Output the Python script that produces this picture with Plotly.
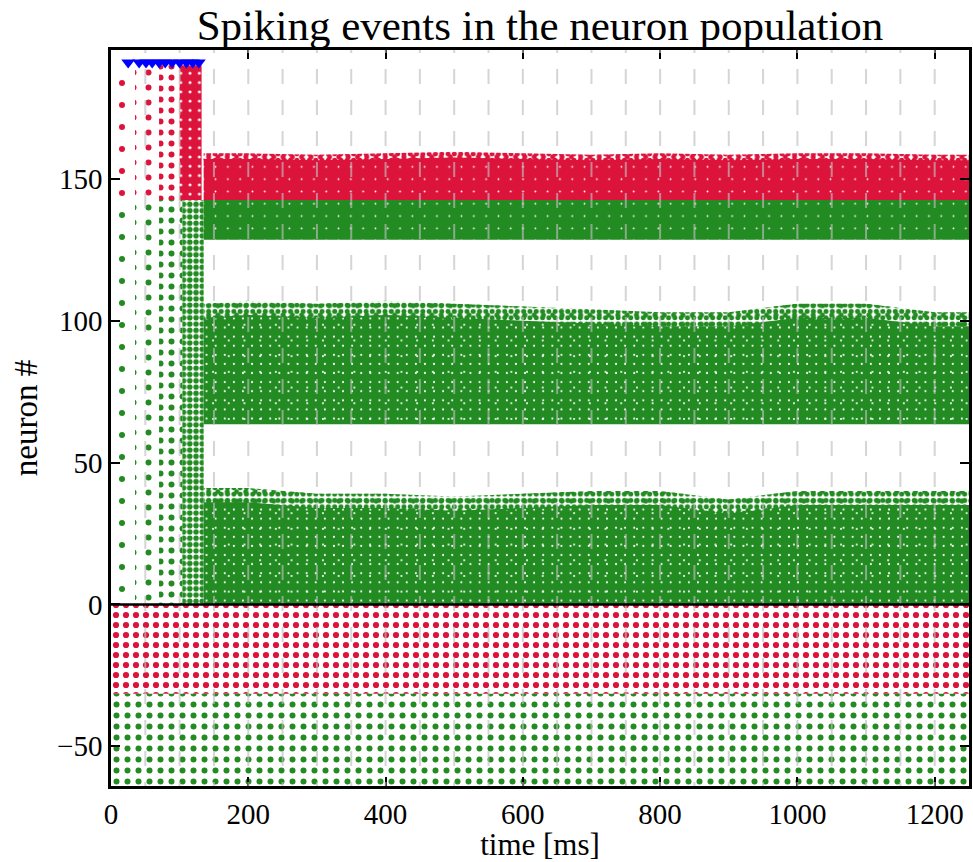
import math
import plotly.graph_objects as go

# ---------------- data ----------------
# stimulus markers (ms) drawn at the top of the raster
stim_times = [25, 41, 51, 60, 70, 79, 89, 100, 110, 119, 128]
stim_neuron = [191] * len(stim_times)

# neuron-index limits of the populations
input_inh_range = [-31.5, 0]        # red input neurons (sparse)
input_exc_range = [-64, -31.5]      # green input neurons (sparse)
exc_low_bottom = 0
exc_mid_bottom = 63.5
exc_high_range = [128.5, 142.5]
inh_bottom = 142.5
transient_top = 190

# time landmarks of the onset transient (ms)
record_start = 0
sparse_split = [35, 70]
red_column_start = 100
green_column_start = 104
steady_start = 135
record_end = 1250

# ragged upper edges of the steady bands, sampled at edge_times (ms)
edge_times = [135, 200, 300, 400, 500, 600, 700, 800, 900, 1000, 1100, 1200, 1250]
inh_top = [159, 159, 158.5, 159, 159.5, 159, 158.5, 159, 158.5, 159, 159, 158.5, 158.5]
exc_mid_top = [106, 107, 106, 107, 106, 105, 104, 103, 103, 106, 106, 103, 103]
exc_low_top = [41, 41, 39, 39, 38, 39, 40, 40, 37, 40, 40, 40, 40]

# axis ticks
x_ticks = [0, 200, 400, 600, 800, 1000, 1200]
y_ticks = [-50, 0, 50, 100, 150]
grid_times = list(range(50, 1250, 50))

# ---------------- styling ----------------
RED = "#DC143C"
GREEN = "#228B22"
BLUE = "#0000FF"
FONT = "Liberation Serif"
CLEAR = "rgba(0,0,0,0)"


def sol(tile, diam):
    return min(0.75, math.pi * (diam / 2) ** 2 / tile ** 2)


def dots(color, tile, diam):
    return dict(shape=".", bgcolor=CLEAR, fgcolor=color, size=tile,
                solidity=sol(tile, diam), fillmode="replace")


def holes(color, tile, diam):
    return dict(shape=".", bgcolor=color, fgcolor="white", size=tile,
                solidity=sol(tile, diam), fillmode="replace")


def area(x, lo, hi, pattern):
    x = list(x)
    return go.Scatter(
        x=x + x[::-1], y=list(hi) + list(lo)[::-1],
        fill="toself", mode="none", fillcolor=CLEAR,
        fillpattern=pattern, hoverinfo="skip", showlegend=False,
    )


def rect(x0, x1, y0, y1, pattern):
    return area([x0, x1], [y0, y0], [y1, y1], pattern)


def sub(vals, d):
    return [v - d for v in vals]


traces = []

# sparse input populations (below zero)
traces.append(rect(record_start, record_end, input_inh_range[0], input_inh_range[1], dots(RED, 10, 6.2)))
traces.append(rect(record_start, record_end, input_exc_range[0], input_exc_range[1], dots(GREEN, 11, 6.0)))

# sparse pre-onset activity, getting denser towards the onset
zones = [(record_start, sparse_split[0], 22), (sparse_split[0], sparse_split[1], 15),
         (sparse_split[1], red_column_start, 11)]
for x0, x1, tile in zones:
    traces.append(rect(x0, x1, inh_bottom, transient_top, dots(RED, tile, 6.0)))
    x1g = green_column_start if x1 == red_column_start else x1
    traces.append(rect(x0, x1g, exc_low_bottom, inh_bottom, dots(GREEN, tile, 6.0)))

# onset columns
traces.append(rect(green_column_start, steady_start, exc_low_bottom, inh_bottom, dots(GREEN, 6.3, 5.6)))
traces.append(rect(red_column_start, steady_start - 3, inh_bottom, transient_top, holes(RED, 9.3, 3.0)))

# steady bands: solid core, white gaps, ragged fringe
flat = lambda v: [v] * len(edge_times)

for top, bottom in ((exc_low_top, exc_low_bottom), (exc_mid_top, exc_mid_bottom)):
    traces.append(area(edge_times, flat(bottom), sub(top, 5), holes(GREEN, 9.1, 2.1)))
    traces.append(area(edge_times, flat(bottom), sub(top, 5), dots("white", 15.7, 2.1)))
    traces.append(area(edge_times, sub(top, 5.5), top, dots(GREEN, 6.3, 5.0)))
    traces.append(area(edge_times, sub(top, 5.5), top, dots(GREEN, 9.3, 5.0)))

traces.append(area(edge_times, flat(exc_high_range[0]), flat(exc_high_range[1]), holes(GREEN, 12.3, 1.8)))
traces.append(area(edge_times, flat(inh_bottom), sub(inh_top, 2), holes(RED, 12.3, 1.8)))
traces.append(area(edge_times, sub(inh_top, 2.5), inh_top, dots(RED, 6.3, 5.0)))
traces.append(area(edge_times, sub(inh_top, 2.5), inh_top, dots(RED, 9.3, 5.0)))

# stimulus markers
traces.append(go.Scatter(
    x=stim_times, y=stim_neuron, mode="markers",
    marker=dict(symbol="triangle-down", size=12, color=BLUE, line=dict(width=0)),
    hoverinfo="skip", showlegend=False,
))

fig = go.Figure(traces)

# dashed vertical grid (drawn above the spikes) and the zero line
shapes = []
for t in grid_times:
    shapes.append(dict(type="line", xref="x", yref="y", x0=t, x1=t, y0=199.6, y1=-64,
                       line=dict(color="rgba(190,190,190,0.65)", width=2, dash="15px,16px"),
                       layer="above"))
shapes.append(dict(type="line", xref="paper", yref="y", x0=0, x1=1, y0=0, y1=0,
                   line=dict(color="black", width=2.5), layer="above"))

axis_common = dict(
    showline=True, linecolor="black", linewidth=2.5, mirror="ticks",
    ticks="inside", ticklen=9, tickwidth=1.5, tickcolor="black",
    showgrid=False, zeroline=False, layer="above traces",
    tickfont=dict(family=FONT, size=29, color="black"),
)

fig.update_layout(
    width=973, height=862,
    margin=dict(l=111, r=1, t=50, b=70),
    paper_bgcolor="white", plot_bgcolor="white",
    shapes=shapes,
    title=dict(text="Spiking events in the neuron population",
               font=dict(family=FONT, size=43, color="black"),
               x=0.5, xref="paper", xanchor="center",
               y=1 - 25 / 862, yref="container", yanchor="middle"),
    xaxis=dict(range=[0, 1250], tickvals=x_ticks,
               title=dict(text="time [ms]", font=dict(family=FONT, size=31, color="black"), standoff=10),
               **axis_common),
    yaxis=dict(range=[-64, 195.4], tickvals=y_ticks,
               title=dict(text="neuron #", font=dict(family=FONT, size=33, color="black"), standoff=10),
               **axis_common),
)

fig.write_html("out.html")
